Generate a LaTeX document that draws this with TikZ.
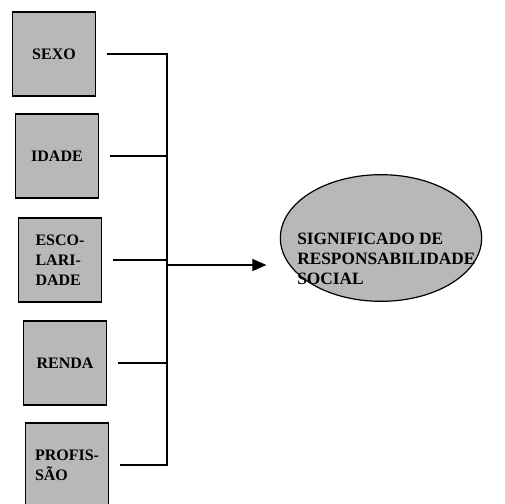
\documentclass[tikz,border=0pt]{standalone}
\usepackage{fontspec}
\setmainfont{Liberation Serif}
\usetikzlibrary{arrows.meta,shapes.geometric}

\begin{document}
\begin{tikzpicture}[x=0.75pt,y=-0.75pt,
  font=\fontsize{12}{15}\selectfont\bfseries,
  var/.style={draw, line width=0.9pt, fill=black!28, minimum width=62pt,
    minimum height=63pt, inner sep=2pt, align=left},
  oval/.style={ellipse, draw, line width=0.9pt, fill=black!28,
    minimum width=151pt, minimum height=95pt, inner sep=0pt},
  link/.style={line width=0.9pt},
  arr/.style={line width=0.9pt, -{Triangle[length=10.5pt,width=9pt]}}]
  \useasboundingbox (0,0) rectangle (505,503);
  % variables
  \node [var] (sexo) at (54,54) {SEXO};
  \node [var] (idade) at (57,156) {IDADE};
  \node [var] (escol) at (60,260) {ESCO-\\LARI-\\DADE};
  \node [var] (renda) at (65,363) {RENDA};
  \node [var] (prof) at (67,465) {PROFIS-\\SÃO};
  % result
  \node [oval] (signif) at (381,238) {};
  \node [align=left, anchor=west, inner sep=0pt,
    font=\fontsize{13}{15}\selectfont\bfseries] (signiftxt) at (297,259)
    {SIGNIFICADO DE\\RESPONSABILIDADE\\SOCIAL};
  % bus
  \coordinate (bx) at (167,0);
  \coordinate (jn) at (167,265);
  \draw [link] ([xshift=8pt]sexo.east) -- (sexo.east -| bx)
    -- (prof.east -| bx) -- ([xshift=8pt]prof.east);
  \foreach \v in {idade,escol,renda}
    \draw [link] ([xshift=8pt]\v.east) -- (\v.east -| bx);
  \draw [arr, shorten >=10pt] (jn) -- (jn -| signif.west);
\end{tikzpicture}
\end{document}
